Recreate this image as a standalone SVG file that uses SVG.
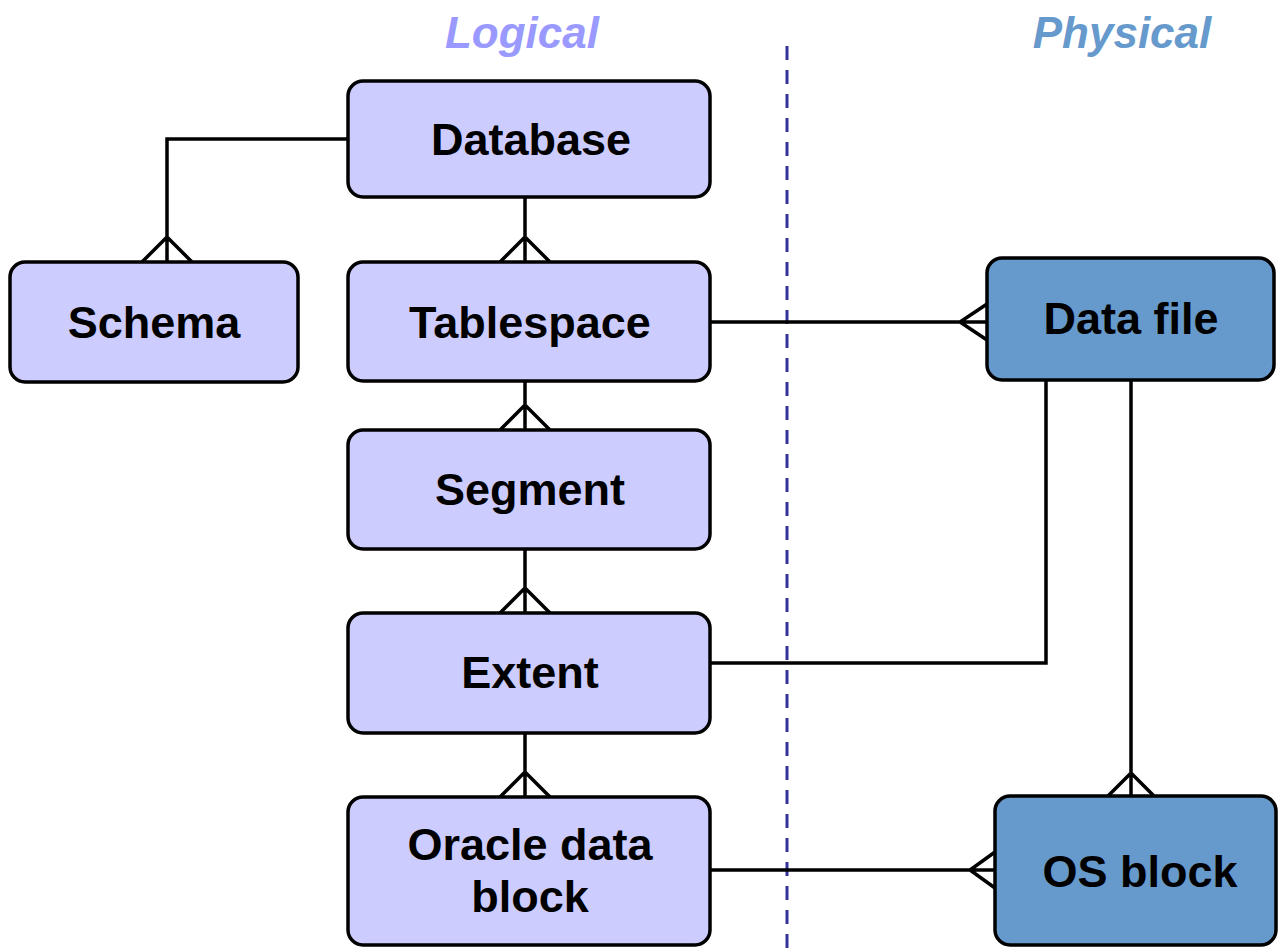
<svg xmlns="http://www.w3.org/2000/svg" width="1278" height="951" viewBox="0 0 1278 951">
<style>
.box{stroke:#000;stroke-width:3.5}
.log{fill:#ccccff}
.phy{fill:#6699cc}
.lbl{font-family:"Liberation Sans",Arial,sans-serif;font-weight:bold;font-size:45px;text-anchor:middle;fill:#000}
.ttl{font-family:"Liberation Sans",Arial,sans-serif;font-weight:bold;font-style:italic;font-size:44px;text-anchor:middle}
.c{fill:none;stroke:#000;stroke-width:3.5}
</style>
<rect width="1278" height="951" fill="#fff"/>
<text class="ttl" x="522" y="48" fill="#9999ff">Logical</text>
<text class="ttl" x="1122" y="48" fill="#6699cc">Physical</text>
<line x1="787" y1="46" x2="787" y2="951" stroke="#333399" stroke-width="3" stroke-dasharray="14,10"/>
<g id="connectors">
<path class="c" d="M348,139 H167 V262 M142,262 L167,237 L192,262"/>
<path class="c" d="M525,197 V262 M500,262 L525,237 L550,262"/>
<path class="c" d="M525,381 V430 M500,430 L525,405 L550,430"/>
<path class="c" d="M525,549 V613 M500,613 L525,588 L550,613"/>
<path class="c" d="M525,733 V797 M500,797 L525,772 L550,797"/>
<path class="c" d="M710,322 H987 M987,304 L960,322 L987,340"/>
<path class="c" d="M1046,380 V663 H710"/>
<path class="c" d="M1131,380 V796 M1108,796 L1131,773 L1154,796"/>
<path class="c" d="M710,870 H995 M995,852 L970,870 L995,888"/>
</g>
<g id="database"><rect class="box log" x="348" y="81" width="362" height="116" rx="15"/><text class="lbl" x="531" y="155">Database</text></g>
<g id="schema"><rect class="box log" x="10" y="262" width="288" height="120" rx="15"/><text class="lbl" x="154" y="338">Schema</text></g>
<g id="tablespace"><rect class="box log" x="348" y="262" width="362" height="119" rx="15"/><text class="lbl" x="530" y="338">Tablespace</text></g>
<g id="segment"><rect class="box log" x="348" y="430" width="362" height="119" rx="15"/><text class="lbl" x="530" y="505">Segment</text></g>
<g id="extent"><rect class="box log" x="348" y="613" width="362" height="120" rx="15"/><text class="lbl" x="530" y="688">Extent</text></g>
<g id="oracle-data-block"><rect class="box log" x="348" y="797" width="362" height="148" rx="15"/><text class="lbl" x="530" y="860">Oracle data</text><text class="lbl" x="530" y="912">block</text></g>
<g id="data-file"><rect class="box phy" x="987" y="258" width="287" height="122" rx="15"/><text class="lbl" x="1131" y="334">Data file</text></g>
<g id="os-block"><rect class="box phy" x="995" y="796" width="281" height="149" rx="15"/><text class="lbl" x="1140" y="887">OS block</text></g>
</svg>
